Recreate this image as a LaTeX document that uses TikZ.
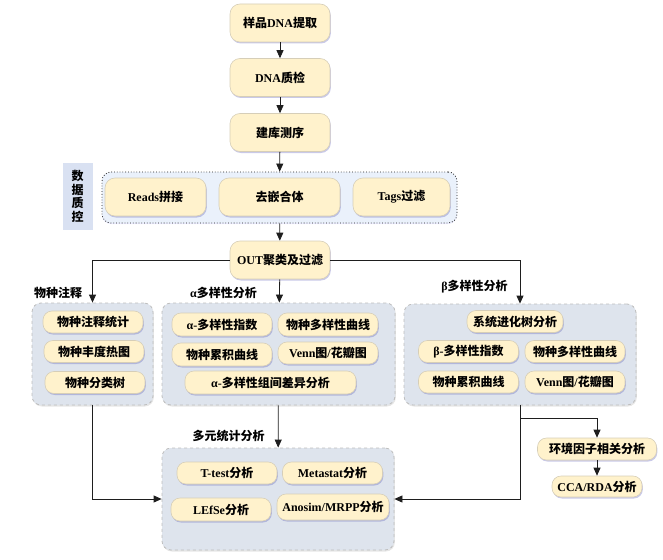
\documentclass[tikz,border=0pt]{standalone}
\usepackage{fontspec}
\setmainfont{Liberation Serif}
\newfontfamily\cjk{Noto Sans CJK SC}
\usetikzlibrary{arrows.meta, shadows, calc}
\definecolor{stepCream}{RGB}{255, 242, 204}
\definecolor{stepLine}{RGB}{214, 206, 184}
\definecolor{groupGray}{RGB}{222, 228, 237}
\definecolor{groupLine}{RGB}{190, 190, 190}
\definecolor{qcBlue}{RGB}{234, 241, 251}
\definecolor{qcLabel}{RGB}{217, 225, 242}
\definecolor{flowLine}{RGB}{30, 30, 30}
\newcommand{\zh}[1]{{\cjk #1}}
\tikzset{
  stepbox/.style={draw=stepLine, fill=stepCream, rounded corners=10pt, line width=0.6pt,
    minimum width=100pt, minimum height=38pt, inner sep=1pt,
    drop shadow={shadow xshift=0.8pt, shadow yshift=-1.5pt, opacity=0.3, fill=blue!40!gray}},
  itembox/.style={stepbox, rounded corners=9pt, minimum height=22pt},
  groupbox/.style={draw=groupLine, dashed, fill=groupGray, rounded corners=9pt, line width=0.8pt,
    drop shadow={shadow xshift=0.8pt, shadow yshift=-1.5pt, opacity=0.2, fill=gray}},
  grouplabel/.style={inner sep=0pt},
  flow/.style={draw=flowLine, line width=0.8pt, -{Triangle[length=8pt, width=7pt]}},
  link/.style={draw=flowLine, line width=0.8pt}
}
\begin{document}
\begin{tikzpicture}[x=1pt, y=-1pt, font=\bfseries\fontsize{12}{14}\selectfont]
\useasboundingbox (0,0) rectangle (663,559);

% Sample preparation
\node[stepbox] (extract) at (280,23) {\zh{样品}DNA\zh{提取}};
\node[stepbox] (qcheck) at (280,77.5) {DNA\zh{质检}};
\node[stepbox] (library) at (280,132.5) {\zh{建库测序}};

% Data quality control
\node[draw=flowLine, dotted, fill=qcBlue, rounded corners=9pt, line width=0.8pt,
  minimum width=355pt, minimum height=51pt,
  drop shadow={shadow xshift=0pt, shadow yshift=-1pt, opacity=0.25, fill=blue!30}] (qcGroup) at (279.5,197.5) {};
\node[fill=qcLabel, minimum width=30pt, minimum height=67pt, inner sep=0pt, align=center,
  font=\cjk\bfseries\fontsize{12}{13.5}\selectfont] (qcTitle) at (77.5,196.5) {数\\据\\质\\控};
\node[stepbox, minimum width=101pt] (merge) at (155.5,197) {Reads\zh{拼接}};
\node[stepbox, minimum width=121pt] (chimera) at (279.5,197) {\zh{去嵌合体}};
\node[stepbox, minimum width=97pt] (tagfilter) at (401.5,197) {Tags\zh{过滤}};

\node[stepbox] (otu) at (280,260) {OUT\zh{聚类及过滤}};

% Analysis groups
\node[groupbox, minimum width=121pt, minimum height=102pt] (annoGroup) at (92.5,354) {};
\node[groupbox, minimum width=233pt, minimum height=102pt] (alphaGroup) at (278.5,354) {};
\node[groupbox, minimum width=232pt, minimum height=101pt] (betaGroup) at (520,354.5) {};
\node[groupbox, minimum width=232pt, minimum height=102pt] (multiGroup) at (278,499) {};

\node[grouplabel] (annoTitle) at (58,293) {\zh{物种注释}};
\node[grouplabel] (alphaTitle) at (223.5,293) {α\zh{多样性分析}};
\node[grouplabel] (betaTitle) at (474.5,287) {β\zh{多样性分析}};
\node[grouplabel] (multiTitle) at (228.5,436) {\zh{多元统计分析}};

% Species annotation
\node[itembox] (annoStat) at (93,322) {\zh{物种注释统计}};
\node[itembox] (annoHeat) at (94,351.5) {\zh{物种丰度热图}};
\node[itembox] (annoTree) at (95,382.5) {\zh{物种分类树}};

% Alpha diversity
\node[itembox, minimum height=23pt] (alphaIndex) at (222,324.5) {α-\zh{多样性指数}};
\node[itembox, minimum height=23pt] (alphaCurve) at (328,324.5) {\zh{物种多样性曲线}};
\node[itembox, minimum height=23pt] (alphaAccum) at (222,354.5) {\zh{物种累积曲线}};
\node[itembox] (alphaVenn) at (328,353) {Venn\zh{图}/\zh{花瓣图}};
\node[itembox, minimum width=171pt, minimum height=23pt] (alphaDiff) at (270.5,382.5) {α-\zh{多样性组间差异分析}};

% Beta diversity
\node[itembox, minimum width=96pt] (betaTree) at (515,321.5) {\zh{系统进化树分析}};
\node[itembox] (betaIndex) at (468.5,351.5) {β-\zh{多样性指数}};
\node[itembox] (betaCurve) at (575,351.5) {\zh{物种多样性曲线}};
\node[itembox] (betaAccum) at (468.5,382) {\zh{物种累积曲线}};
\node[itembox] (betaVenn) at (575,382) {Venn\zh{图}/\zh{花瓣图}};

% Multivariate statistics
\node[itembox] (ttest) at (227,473) {T-test\zh{分析}};
\node[itembox] (metastat) at (332.5,473) {Metastat\zh{分析}};
\node[itembox, minimum height=23pt] (lefse) at (221,509.5) {LEfSe\zh{分析}};
\node[itembox, minimum width=112pt, minimum height=26pt] (anosim) at (333,507) {Anosim/MRPP\zh{分析}};

% Environment factors
\node[itembox, minimum width=119pt] (envCorr) at (597,449) {\zh{环境因子相关分析}};
\node[itembox, minimum width=90pt, minimum height=21pt] (ccaRda) at (597,486.5) {CCA/RDA\zh{分析}};

% Connectors
\draw[flow] (extract) -- (qcheck);
\draw[flow] (qcheck) -- (library);
\draw[flow] (library) -- (qcGroup);
\draw[flow] (qcGroup) -- (otu);
\draw[flow] (otu.west) -| (annoGroup.north);
\draw[flow] (otu.east) -| (betaGroup.north);
\draw[flow] (otu) -- (alphaGroup);
\draw[flow] (alphaGroup) -- (multiGroup);
\draw[flow] (annoGroup.south) |- (multiGroup.west);
\draw[flow] (betaGroup.south) |- (multiGroup.east);
\coordinate (envSplit) at ($(betaGroup.south)+(0,13)$);
\draw[flow] (envSplit) -| (envCorr.north);
\draw[flow] (envCorr) -- (ccaRda);
\end{tikzpicture}
\end{document}
